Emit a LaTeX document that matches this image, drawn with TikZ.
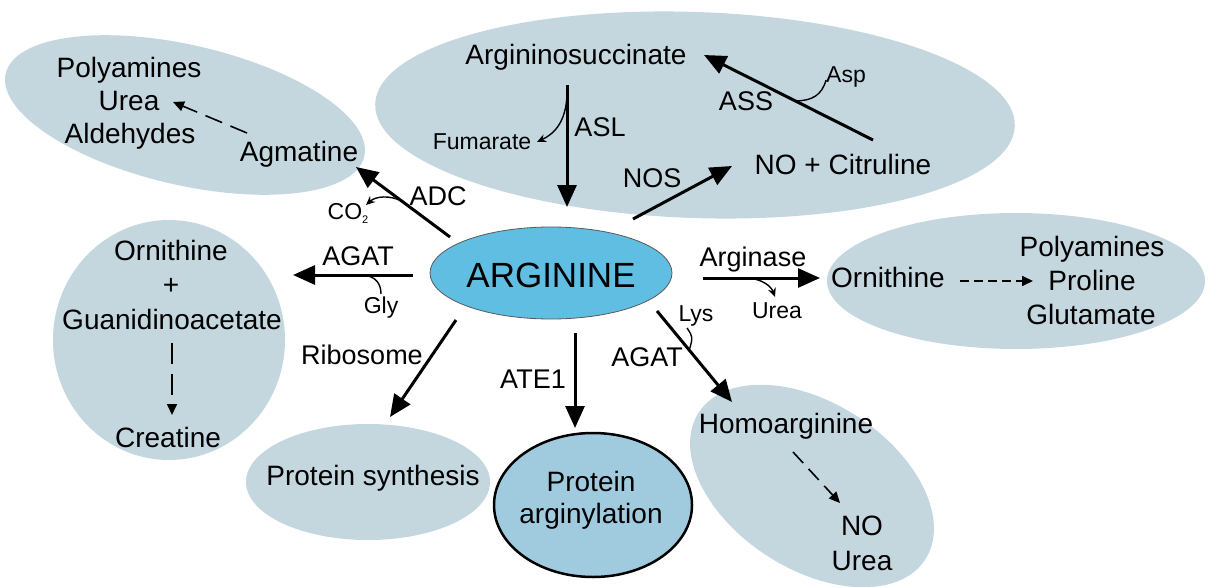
\documentclass[tikz,border=0pt]{standalone}
\usepackage{fontspec}
\setmainfont{Liberation Sans}
\usetikzlibrary{arrows.meta,shapes.geometric}
\definecolor{pale}{RGB}{196,215,223}
\definecolor{argblue}{RGB}{96,190,226}
\definecolor{protblue}{RGB}{160,203,222}
\begin{document}
\begin{tikzpicture}[x=1pt,y=-1pt,
  container/.style={ellipse, fill=pale, draw=none, inner sep=0pt},
  big/.style={font=\fontsize{28}{34}\selectfont, inner sep=0pt, anchor=base},
  enz/.style={font=\fontsize{27}{32}\selectfont, inner sep=0pt, anchor=base},
  small/.style={font=\fontsize{23}{27}\selectfont, inner sep=0pt, anchor=base},
  mainarrow/.style={line width=3pt, -{Triangle[length=22pt,width=19pt]}},
  dasharrow/.style={line width=1.6pt, -{Triangle[length=11pt,width=10pt]}},
  sidearrow/.style={line width=1.4pt, -{Stealth[length=9pt,width=8pt]}},
  sidein/.style={line width=1.4pt},
]
\useasboundingbox (0,0) rectangle (1222,588);

% containers
\node[container, minimum width=368pt, minimum height=140pt, rotate=-13] (ctl) at (185,115) {};
\node[container, minimum width=640pt, minimum height=206pt, rotate=-2] (ctop) at (695,115) {};
\node[container, minimum width=232pt, minimum height=240pt] (cleft) at (169,340) {};
\node[container, minimum width=378pt, minimum height=136pt] (cright) at (1016,281) {};
\node[container, minimum width=244pt, minimum height=116pt] (cps) at (368,482) {};
\node[container, minimum width=270pt, minimum height=166pt, rotate=-33] (chomo) at (812,486) {};
\node[ellipse, fill=protblue, draw=black, line width=2.5pt, minimum width=198pt, minimum height=144pt] (parg) at (593,505) {};

% central node
\node[ellipse, fill=argblue, draw=black!65, line width=0.8pt, minimum width=242pt, minimum height=92pt, inner sep=0pt] (arg) at (551,273) {};
\node[font=\fontsize{35}{40}\selectfont, inner sep=0pt, anchor=base] (argt) at (551,287) {ARGININE};

% top-left
\node[big] (pa1) at (129,78) {Polyamines};
\node[big] (ur1) at (129,111) {Urea};
\node[big] (ald) at (130,144) {Aldehydes};
\node[big] (agm) at (299,161) {Agmatine};

% top
\node[big] (asuc) at (576,65) {Argininosuccinate};
\node[small] (fum) at (482,150) {Fumarate};
\node[enz] (asl) at (600,137) {ASL};
\node[enz] (nos) at (652,187) {NOS};
\node[big] (noc) at (843,175) {NO + Citruline};
\node[enz] (ass) at (746,111) {ASS};
\node[small] (asp) at (846,83) {Asp};

% left
\node[enz] (adc) at (438,205) {ADC};
\node[small] (co2) at (348,219) {CO\raisebox{-4pt}{\fontsize{11}{11}\selectfont 2}};
\node[enz] (agat1) at (358,265) {AGAT};
\node[small] (gly) at (381,313) {Gly};
\node[big] (orn1) at (171,260) {Ornithine};
\node[big] (plus) at (171,294) {+};
\node[big] (gaa) at (172,329) {Guanidinoacetate};
\node[big] (cre) at (168,447) {Creatine};

% right
\node[enz] (argase) at (753,266) {Arginase};
\node[small] (ur2) at (777,318) {Urea};
\node[big] (orn2) at (888,287) {Ornithine};
\node[big] (pa2) at (1092,256) {Polyamines};
\node[big] (pro) at (1092,290) {Proline};
\node[big] (glu) at (1091,324) {Glutamate};

% bottom
\node[enz] (ribo) at (362,364) {Ribosome};
\node[big] (psyn) at (373,485) {Protein synthesis};
\node[enz] (ate) at (533,388) {ATE1};
\node[big] (parg1) at (591,491) {Protein};
\node[big] (parg2) at (591,523) {arginylation};
\node[enz] (agat2) at (647,366) {AGAT};
\node[small] (lys) at (696,321) {Lys};
\node[big] (homo) at (786,433) {Homoarginine};
\node[big] (no2) at (862,535) {NO};
\node[big] (ur3) at (862,570) {Urea};

% arrow end points
\coordinate (adcS) at (450,237);  \coordinate (adcE) at (356,167);
\coordinate (aslS) at (567,85);   \coordinate (aslE) at (567,207);
\coordinate (nosS) at (633,219);  \coordinate (nosE) at (732,166);
\coordinate (assS) at (873,140);  \coordinate (assE) at (704,55);
\coordinate (agS) at (413,275);   \coordinate (agE) at (293,275);
\coordinate (arS) at (703,278);   \coordinate (arE) at (820,278);
\coordinate (riS) at (456,320);   \coordinate (riE) at (390,417);
\coordinate (atS) at (575,333);   \coordinate (atE) at (575,428);
\coordinate (hoS) at (657,311);   \coordinate (hoE) at (732,402);

% main arrows with branch points
\draw[mainarrow] (adcS) -- (adcE) coordinate[pos=0.51] (co2B);
\draw[mainarrow] (aslS) -- (aslE) coordinate[pos=0.08] (fumB);
\draw[mainarrow] (nosS) -- (nosE);
\draw[mainarrow] (assS) -- (assE) coordinate[pos=0.46] (aspB);
\draw[mainarrow] (agS) -- (agE) coordinate[pos=0.42] (glyB);
\draw[mainarrow] (arS) -- (arE) coordinate[pos=0.38] (urB);
\draw[mainarrow] (riS) -- (riE);
\draw[mainarrow] (atS) -- (atE);
\draw[mainarrow] (hoS) -- (hoE) coordinate[pos=0.43] (lysB);

% side branches
\coordinate (fumT) at (537,142);
\draw[sidearrow] (fumB) .. controls (566,120) and (556,133) .. (fumT);
\coordinate (co2T) at (366,205);
\draw[sidearrow] (co2B) .. controls (390,195) and (376,196) .. (co2T);
\coordinate (urT) at (775,297);
\draw[sidearrow] (urB) .. controls (762,279) and (771,286) .. (urT);
\coordinate (glyT) at (381,294);
\draw[sidein] (glyB) .. controls (376,276) and (381,284) .. (glyT);
\coordinate (aspT) at (826,80);
\draw[sidein] (aspB) .. controls (812,101) and (822,95) .. (aspT);
\coordinate (lysT) at (687,328);
\draw[sidein] (lysT) .. controls (693,337) .. (lysB);

% dashed arrows
\coordinate (d1S) at (247,133); \coordinate (d1E) at (173,102);
\draw[dasharrow, dash pattern=on 18pt off 9pt] (d1S) -- (d1E);
\coordinate (d2S) at (172,343); \coordinate (d2E) at (172,415);
\draw[dasharrow, dash pattern=on 21pt off 10pt] (d2S) -- (d2E);
\coordinate (d3S) at (960,281); \coordinate (d3E) at (1033,281);
\draw[dasharrow, dash pattern=on 9pt off 5pt] (d3S) -- (d3E);
\coordinate (d4S) at (793,452); \coordinate (d4E) at (840,503);
\draw[dasharrow, dash pattern=on 15pt off 8pt] (d4S) -- (d4E);
\end{tikzpicture}
\end{document}
